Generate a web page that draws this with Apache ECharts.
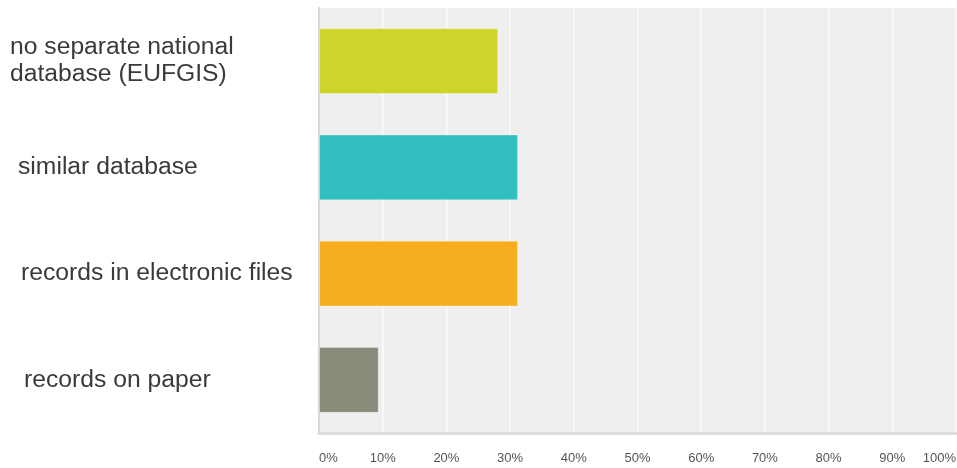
<!DOCTYPE html>
<html>
<head>
<meta charset="utf-8">
<script src="https://cdn.jsdelivr.net/npm/echarts@6/dist/echarts.min.js"></script>
<style>
  html, body { margin: 0; padding: 0; background: #fff; }
  #chart { width: 957px; height: 468px; }
</style>
</head>
<body>
<div id="chart"></div>
<script>
// Survey answers and the share of respondents choosing each one (%)
const categories = [
  'no separate national\ndatabase (EUFGIS)',
  'similar database',
  'records in electronic files',
  'records on paper'
];
const shares = [28.13, 31.25, 31.25, 9.38];
const barColors = ['#cfd42a', '#33bfc0', '#f6ae1f', '#8a8b7a'];
const labelIndent = [0, 8, 11, 14];

const chart = echarts.init(document.getElementById('chart'));

chart.setOption({
  animation: false,
  grid: {
    left: 319, right: 1, top: 8, bottom: 35,
    containLabel: false, outerBoundsMode: 'none',
    show: true, backgroundColor: '#efefef', borderWidth: 0
  },
  xAxis: {
    type: 'value', min: 0, max: 100, interval: 10,
    axisLine: { show: true, onZero: false, lineStyle: { color: '#dcdcdc', width: 3 } },
    axisTick: { show: false },
    splitLine: { show: true, lineStyle: { color: '#f8f8f8', width: 2 } },
    axisLabel: {
      formatter: '{value}%', color: '#555', fontSize: 13,
      fontFamily: 'Liberation Sans, Arial, sans-serif',
      margin: 19, showMinLabel: true, showMaxLabel: true,
      hideOverlap: false,
      alignMinLabel: 'left', alignMaxLabel: 'right'
    }
  },
  yAxis: {
    type: 'category', inverse: true,
    data: categories.map((c, i) => ({
      value: c,
      textStyle: { align: 'left', padding: [0, 0, 0, labelIndent[i]] }
    })),
    axisLine: { show: true, lineStyle: { color: '#d8d8d8', width: 2 } },
    axisTick: { show: false },
    axisLabel: {
      align: 'left', margin: 309, color: '#3a3a3a', fontSize: 24.7, lineHeight: 27,
      fontFamily: 'Liberation Sans, Arial, sans-serif'
    }
  },
  series: [{
    type: 'bar',
    barCategoryGap: '38%',
    data: shares.map((v, i) => ({
      value: v,
      itemStyle: { color: barColors[i] }
    })),
    itemStyle: { borderColor: 'rgba(255,255,255,0.35)', borderWidth: 1 }
  }]
});
</script>
</body>
</html>
